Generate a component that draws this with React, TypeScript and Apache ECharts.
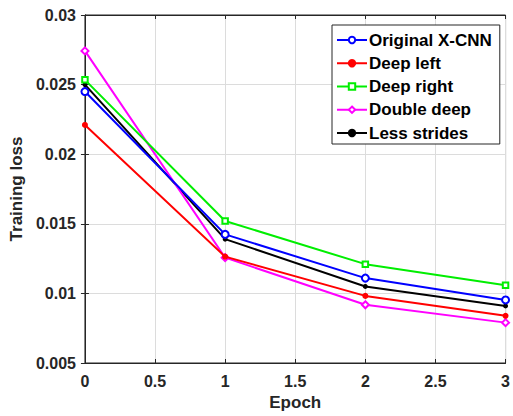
import React, { useEffect, useRef } from "react";
import * as echarts from "echarts";

const epochs = [0, 1, 2, 3];
const seriesNames = ["Original X-CNN", "Deep left", "Deep right", "Double deep", "Less strides"];
const originalXCNN = [0.0245, 0.01424, 0.0111, 0.00953];
const deepLeft = [0.0221, 0.01264, 0.00982, 0.00839];
const deepRight = [0.02534, 0.0152, 0.0121, 0.01059];
const doubleDeep = [0.02742, 0.01257, 0.00918, 0.0079];
const lessStrides = [0.025, 0.0139, 0.0105, 0.0091];
const yTickLabels = ["0.005", "0.01", "0.015", "0.02", "0.025", "0.03"];
const xTickLabels = ["0", "0.5", "1", "1.5", "2", "2.5", "3"];

const FONT = "Liberation Sans, Arial, sans-serif";

export default function App() {
  const ref = useRef<HTMLDivElement>(null);
  useEffect(() => {
    if (!ref.current) return;
    const chart = echarts.init(ref.current, null, { renderer: "svg" });
    const values = [originalXCNN, deepLeft, deepRight, doubleDeep, lessStrides];
    const colors = ["#0000ff", "#ff0000", "#00ee00", "#ff00ff", "#000000"];
    const symbols = ["emptyCircle", "circle", "emptyRect", "emptyDiamond", "circle"];
    const sizes = [7, 4.5, 5.5, 7, 3.5];
    const labelFmt = (arr: string[], min: number, step: number) => (v: number) => {
      const i = Math.round((v - min) / step);
      return arr[i] ?? "";
    };
    chart.setOption({
      animation: false,
      backgroundColor: "#ffffff",
      grid: {
        left: 82,
        right: 3,
        top: 15,
        bottom: 52,
        show: true,
        borderColor: "#262626",
        borderWidth: 1,
        backgroundColor: "#ffffff",
      },
      legend: {
        orient: "vertical",
        left: 332,
        top: 25,
        data: seriesNames,
        backgroundColor: "#ffffff",
        borderColor: "#262626",
        borderWidth: 1,
        padding: [6, 8, 2, 4],
        itemWidth: 30,
        itemHeight: 8,
        itemGap: 5.25,
        textStyle: {
          fontFamily: FONT,
          fontWeight: "bold",
          fontSize: 17,
          lineHeight: 18,
          color: "#000000",
          padding: [0, 0, 0, -3],
        },
      },
      xAxis: [
        {
          type: "value",
          min: 0,
          max: 3,
          interval: 0.5,
          name: "Epoch",
          nameLocation: "middle",
          nameGap: 31,
          nameTextStyle: { fontFamily: FONT, fontWeight: "bold", fontSize: 17, color: "#262626" },
          axisLine: { show: true, lineStyle: { color: "#262626", width: 1 } },
          axisTick: { show: true, inside: true, length: 4, lineStyle: { color: "#262626" } },
          axisLabel: {
            formatter: labelFmt(xTickLabels, 0, 0.5),
            fontFamily: FONT,
            fontWeight: "bold",
            fontSize: 16,
            color: "#262626",
            margin: 10,
          },
          splitLine: { show: true, lineStyle: { color: "#dcdcdc", width: 1 } },
        },
        {
          type: "value",
          position: "top",
          min: 0,
          max: 3,
          interval: 0.5,
          axisLine: { show: true, lineStyle: { color: "#262626" } },
          axisTick: { show: true, inside: true, length: 4, lineStyle: { color: "#262626" } },
          axisLabel: { show: false },
          splitLine: { show: false },
        },
      ],
      yAxis: [
        {
          type: "value",
          min: 0.005,
          max: 0.03,
          interval: 0.005,
          name: "Training loss",
          nameLocation: "middle",
          nameGap: 55,
          nameTextStyle: { fontFamily: FONT, fontWeight: "bold", fontSize: 17, color: "#262626" },
          axisLine: { show: true, lineStyle: { color: "#262626", width: 1 } },
          axisTick: { show: true, inside: true, length: 4, lineStyle: { color: "#262626" } },
          axisLabel: {
            formatter: labelFmt(yTickLabels, 0.005, 0.005),
            fontFamily: FONT,
            fontWeight: "bold",
            fontSize: 16,
            color: "#262626",
            margin: 9,
          },
          splitLine: { show: true, lineStyle: { color: "#dcdcdc", width: 1 } },
        },
        {
          type: "value",
          position: "right",
          min: 0.005,
          max: 0.03,
          interval: 0.005,
          axisLine: { show: true, lineStyle: { color: "#262626" } },
          axisTick: { show: true, inside: true, length: 4, lineStyle: { color: "#262626" } },
          axisLabel: { show: false },
          splitLine: { show: false },
        },
      ],
      series: seriesNames.map((name, i) => ({
        name,
        type: "line",
        xAxisIndex: 0,
        yAxisIndex: 0,
        data: epochs.map((e, j) => [e, values[i][j]]),
        symbol: symbols[i],
        symbolSize: sizes[i],
        showAllSymbol: true,
        lineStyle: { color: colors[i], width: 2 },
        itemStyle: { color: colors[i], borderColor: colors[i], borderWidth: 1.5 },
        z: 10 - i,
      })),
    });
    return () => chart.dispose();
  }, []);
  return <div ref={ref} style={{ width: 513, height: 416, position: "absolute", left: 0, top: 0 }} />;
}
